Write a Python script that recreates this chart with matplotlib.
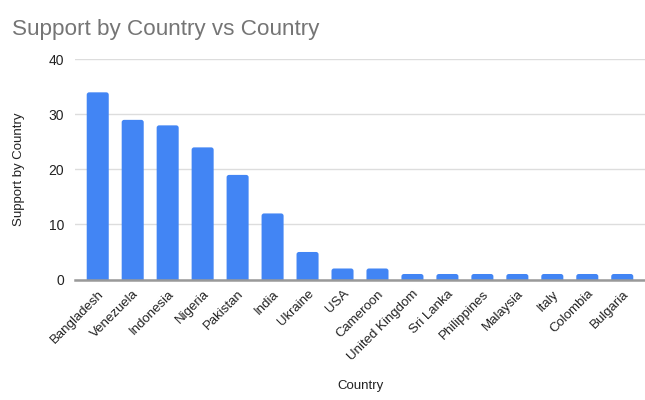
import matplotlib
matplotlib.use("Agg")
import matplotlib.pyplot as plt
from matplotlib.patches import FancyBboxPatch

countries = ["Bangladesh", "Venezuela", "Indonesia", "Nigeria", "Pakistan", "India",
             "Ukraine", "USA", "Cameroon", "United Kingdom", "Sri Lanka", "Philippines",
             "Malaysia", "Italy", "Colombia", "Bulgaria"]
support = [34, 29, 28, 24, 19, 12, 5, 2, 2, 1, 1, 1, 1, 1, 1, 1]
yticks = [0, 10, 20, 30, 40]

plt.rcParams['font.family'] = ['Liberation Sans', 'DejaVu Sans']

fig = plt.figure(figsize=(6.45, 4.0), dpi=100)
ax = fig.add_axes([75/645, (400-279.5)/400, 570/645, (279.5-59.3)/400])

x = list(range(len(countries)))
bars = ax.bar(x, support, width=0.63, color="#4285F4", zorder=3)

ax.set_xlim(-0.65, len(countries) - 0.35)
ax.set_ylim(0, 40)

# replace bars with rounded-top versions (bottom extends below axis and is clipped)
px_per_x = 570 / (ax.get_xlim()[1] - ax.get_xlim()[0])
px_per_y = (279.5 - 59.3) / 40
aspect = px_per_x / px_per_y
for b in bars:
    bx, bw, bh = b.get_x(), b.get_width(), b.get_height()
    b.set_visible(False)
    p = FancyBboxPatch((bx, -1.5), bw, bh + 1.5,
                       boxstyle="round,pad=0,rounding_size=0.07",
                       mutation_aspect=aspect, facecolor="#4285F4",
                       edgecolor="none", zorder=3, clip_on=True)
    ax.add_patch(p)

ax.set_yticks(yticks)
ax.set_yticklabels([str(v) for v in yticks], fontsize=10, color="#222222")
ax.set_xticks(x)
ax.set_xticklabels(countries, rotation=45, ha="right", rotation_mode="anchor",
                   fontsize=9.5, color="#222222")
ax.tick_params(axis="both", length=0)
ax.tick_params(axis="y", pad=8)
ax.tick_params(axis="x", pad=6)

ax.grid(axis="y", color="#dddddd", linewidth=1, zorder=0)
for s in ["top", "right", "left"]:
    ax.spines[s].set_visible(False)
ax.spines["bottom"].set_color("#999999")
ax.spines["bottom"].set_linewidth(1.8)
ax.spines["bottom"].set_zorder(4)

ax.set_ylabel("Support by Country", fontsize=9.5, color="#222222", labelpad=17)
ax.set_xlabel("Country", fontsize=9.5, color="#222222", labelpad=12)

fig.text(12/645, 1 - 35/400, "Support by Country vs Country", fontsize=16.2,
         color="#757575", ha="left", va="baseline")

fig.savefig("out.png", dpi=100)
